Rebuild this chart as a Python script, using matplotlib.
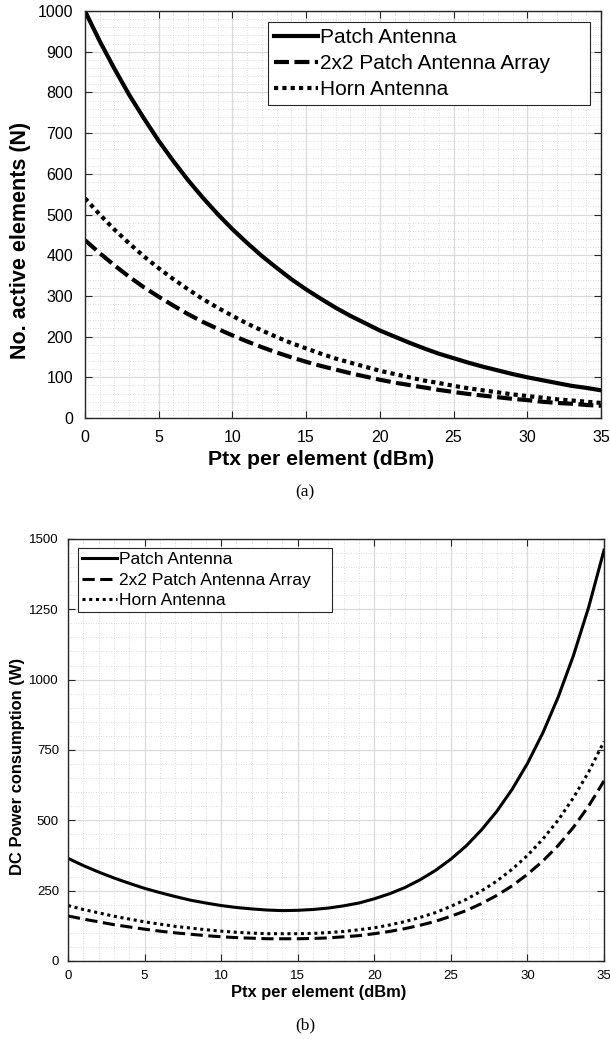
import matplotlib
matplotlib.use("Agg")
from matplotlib import pyplot as plt

plt.rcParams['font.family'] = ['Liberation Sans', 'DejaVu Sans']

# transmit power per element (dBm)
ptx = list(range(0, 36))

# (a) number of active elements
n_patch = [1000, 926, 858, 794, 736, 681, 631, 584, 541, 501, 464, 430, 398, 369, 341, 316,
           293, 271, 251, 233, 215, 200, 185, 171, 158, 147, 136, 126, 117, 108, 100, 93, 86, 79, 74, 68]
n_array = [437, 405, 375, 347, 321, 298, 276, 255, 236, 219, 203, 188, 174, 161, 149, 138,
           128, 119, 110, 102, 94, 87, 81, 75, 69, 64, 59, 55, 51, 47, 44, 40, 37, 35, 32, 30]
n_horn = [540, 500, 463, 429, 397, 368, 341, 316, 292, 271, 251, 232, 215, 199, 184, 171,
          158, 146, 136, 126, 116, 108, 100, 92, 86, 79, 73, 68, 63, 58, 54, 50, 46, 43, 40, 37]

# (b) DC power consumption (W)
p_patch = [365, 339, 316, 295, 276, 258, 243, 229, 216, 206, 197, 190, 185, 181, 179, 180,
           183, 188, 196, 206, 221, 239, 261, 289, 322, 362, 409, 466, 532, 610, 702, 810, 937, 1085, 1258, 1460]
p_array = [160, 149, 139, 129, 121, 113, 106, 100, 95, 90, 86, 83, 81, 79, 79, 79,
           80, 82, 86, 90, 97, 105, 115, 127, 141, 159, 179, 204, 233, 267, 308, 355, 410, 475, 551, 640]
p_horn = [197, 183, 171, 159, 149, 139, 131, 123, 117, 111, 106, 102, 99, 97, 97, 97,
          98, 101, 105, 111, 118, 128, 140, 155, 172, 194, 219, 249, 284, 326, 375, 433, 500, 580, 672, 780]

labels = ['Patch Antenna', '2x2 Patch Antenna Array', 'Horn Antenna']


def style_axes(ax, tick_size, pad):
    ax.minorticks_on()
    ax.grid(True, which='major', color='#dadada', linewidth=0.9, linestyle='-')
    ax.grid(True, which='minor', color='#d2d2d2', linewidth=0.6, linestyle=(0, (1, 2)))
    ax.set_axisbelow(True)
    ax.tick_params(which='major', direction='in', top=True, right=True, length=5,
                   width=0.8, labelsize=tick_size, pad=pad, colors='#262626', labelcolor='black')
    ax.tick_params(which='minor', length=0)
    for s in ax.spines.values():
        s.set_color('#262626')
        s.set_linewidth(1.0)


def place_labels(ax, xpos, ypos):
    ax.xaxis.label.set_va('center')
    ax.yaxis.label.set_va('center')
    ax.yaxis.label.set_ha('center')
    ax.xaxis.set_label_coords(*xpos)
    ax.yaxis.set_label_coords(*ypos)


fig = plt.figure(figsize=(6.1, 10.39), dpi=100)

# ---- (a)
ax1 = fig.add_axes([0.1393, 0.5977, 0.8459, 0.3917])
lw = 3.0
ax1.plot(ptx, n_patch, color='black', lw=lw, linestyle='-', label=labels[0])
ax1.plot(ptx, n_array, color='black', lw=lw, linestyle=(0, (3.6, 1.3)), label=labels[1])
ax1.plot(ptx, n_horn, color='black', lw=lw, linestyle=(0, (1, 1)), label=labels[2])
ax1.set_xlim(0, 35)
ax1.set_ylim(0, 1000)
ax1.set_xticks(range(0, 36, 5))
ax1.set_yticks(range(0, 1001, 100))
ax1.xaxis.set_minor_locator(matplotlib.ticker.MultipleLocator(1))
ax1.yaxis.set_minor_locator(matplotlib.ticker.MultipleLocator(20))
style_axes(ax1, 11.5, 8.5)
ax1.set_xlabel('Ptx per element (dBm)', fontsize=15.3, fontweight='bold')
ax1.set_ylabel('No. active elements (N)', fontsize=15.5, fontweight='bold')
place_labels(ax1, (0.457, -0.103), (-0.125, 0.437))
leg1 = ax1.legend(loc='upper left', mode='expand', fontsize=15, handlelength=2.1,
                  handletextpad=0.1, borderpad=0.3, labelspacing=0.33, fancybox=False,
                  framealpha=1, edgecolor='#262626', borderaxespad=0,
                  bbox_to_anchor=(0.3547, 0.5, 0.624, 0.473))
leg1.get_frame().set_linewidth(0.8)

fig.text(0.5, 1 - 492 / 1039, '(a)', ha='center', va='center', fontsize=12.5,
         family=['Liberation Serif', 'DejaVu Serif'])

# ---- (b)
ax2 = fig.add_axes([0.1115, 0.0751, 0.8787, 0.4062])
lw2 = 2.2
ax2.plot(ptx, p_patch, color='black', lw=lw2, linestyle='-', label=labels[0])
ax2.plot(ptx, p_array, color='black', lw=lw2, linestyle=(0, (4.0, 1.8)), label=labels[1])
ax2.plot(ptx, p_horn, color='black', lw=lw2, linestyle=(0, (1, 1.2)), label=labels[2])
ax2.set_xlim(0, 35)
ax2.set_ylim(0, 1500)
ax2.set_xticks(range(0, 36, 5))
ax2.set_yticks(range(0, 1501, 250))
ax2.xaxis.set_minor_locator(matplotlib.ticker.MultipleLocator(1))
ax2.yaxis.set_minor_locator(matplotlib.ticker.MultipleLocator(50))
style_axes(ax2, 9.5, 6.5)
ax2.set_xlabel('Ptx per element (dBm)', fontsize=11.9, fontweight='bold')
ax2.set_ylabel('DC Power consumption (W)', fontsize=11.9, fontweight='bold')
place_labels(ax2, (0.468, -0.0758), (-0.0951, 0.462))
leg2 = ax2.legend(loc='upper left', mode='expand', fontsize=12.5, handlelength=2.0,
                  handletextpad=0.1, borderpad=0.25, labelspacing=0.3, fancybox=False,
                  framealpha=1, edgecolor='#262626', borderaxespad=0,
                  bbox_to_anchor=(0.0187, 0.5, 0.474, 0.4787))
leg2.get_frame().set_linewidth(0.8)

fig.text(0.5, 1 - 1025 / 1039, '(b)', ha='center', va='center', fontsize=12.5,
         family=['Liberation Serif', 'DejaVu Serif'])

fig.savefig('out.png', dpi=100)
